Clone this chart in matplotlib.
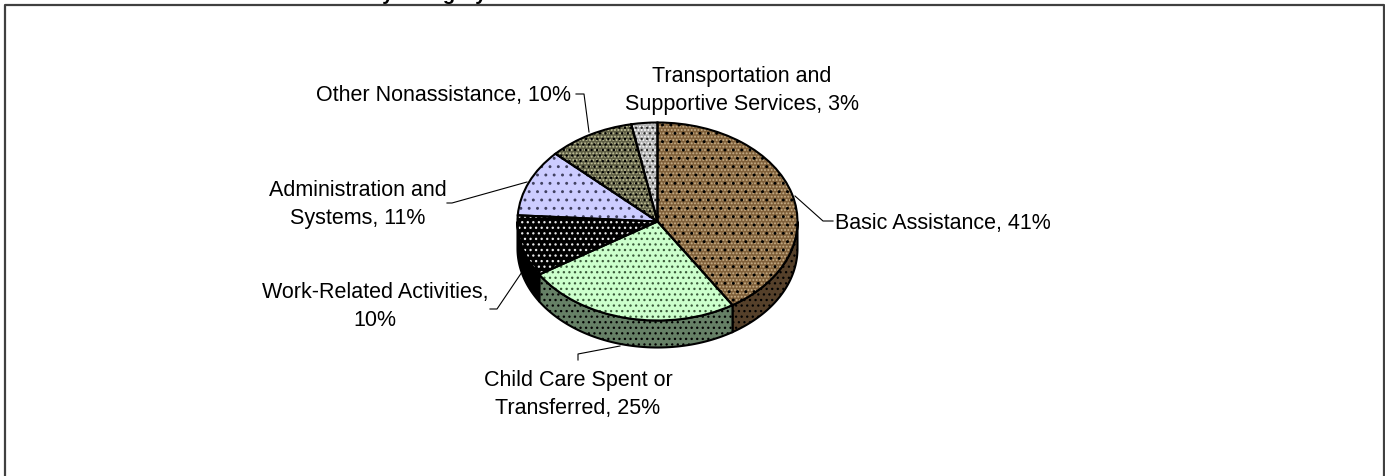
import matplotlib
matplotlib.use('Agg')
import matplotlib.pyplot as plt
import numpy as np
from matplotlib.patches import Polygon

# slices, clockwise from 12 o'clock
labels = ['Basic Assistance, 41%', 'Child Care Spent or\nTransferred, 25%',
          'Work-Related Activities,\n10%', 'Administration and\nSystems, 11%',
          'Other Nonassistance, 10%', 'Transportation and\nSupportive Services, 3%']
shares = [41, 25, 10, 11, 10, 3]

# looks of each slice: base colour, fine dots, coarse dots
face_colors = ['#80603A', '#CCFFCC', '#000000', '#CCCCFF', '#5E5E44', '#B0B0B0']
fine_colors = ['#C8B08A', '#CCFFCC', '#000000', '#CCCCFF', '#C8C8A0', '#FFFFFF']
fine_hatch = ['.....', '', '', '', '.....', '.....']
top_colors = ['#000000', '#3A5A3A', '#E8E8E8', '#404060', '#000000', '#303030']
top_hatch = ['..', '...', '...', '..', '...', '...']
side_colors = ['#55402A', '#668066', '#000000', '#666680', '#404030', '#606060']

label_xy = [(943, 224), (578, 394.5), (375, 306.5), (358, 204.5), (444, 95), (742, 90.5)]
leaders = [[(795, 197), (823, 222), (833, 222)],
           [(620, 347), (578, 355), (578, 361)],
           [(522, 273), (497, 310), (490, 310)],
           [(527, 183), (452, 204), (447, 204)],
           [(589, 133), (584, 95), (576, 95)]]

W, H = 1385, 477
plt.rcParams['font.family'] = ['Liberation Sans', 'DejaVu Sans']
plt.rcParams['hatch.linewidth'] = 0.9

fig = plt.figure(figsize=(W / 100, H / 100), dpi=100, facecolor='white')

# pixel overlay for frame, labels and leader lines
over = fig.add_axes([0, 0, 1, 1], zorder=2)
over.set_xlim(0, W)
over.set_ylim(H, 0)
over.axis('off')

over.plot([4.5, 4.5, 1383.5, 1383.5], [H + 5, 5.5, 5.5, H + 5], color='#404040', lw=1.6, clip_on=False)
over.text(486, 0, 'by Category', fontsize=14.5, fontweight='bold', ha='right', va='baseline')

for lab, (x, y) in zip(labels, label_xy):
    over.text(x, y, lab, fontsize=15.5, ha='center', va='center', linespacing=1.43, color='black')
for line in leaders:
    xs, ys = zip(*line)
    over.plot(xs, ys, color='black', lw=0.8)

# pie axes: unit circle squashed to 140 x 99 px
cx, cy, rx, ry = 657.5, 222.5, 140, 99
depth = 27 / ry
x0, x1, y0, y1 = -1.1, 1.1, -1.5, 1.1
ax = fig.add_axes([(cx + x0 * rx) / W, 1 - (cy - y0 * ry) / H, (x1 - x0) * rx / W, (y1 - y0) * ry / H], zorder=1)

# top face layers: base + fine pattern, coarse dots, then the outline
w1, _ = ax.pie(shares, startangle=90, counterclock=False, colors=face_colors, wedgeprops=dict(linewidth=0))
for w, ec, h in zip(w1, fine_colors, fine_hatch):
    w.set_edgecolor(ec)
    w.set_hatch(h)
    w.set_zorder(3)
w2, _ = ax.pie(shares, startangle=90, counterclock=False, wedgeprops=dict(facecolor='none', linewidth=0))
for w, ec, h in zip(w2, top_colors, top_hatch):
    w.set_facecolor('none')
    w.set_edgecolor(ec)
    w.set_hatch(h)
    w.set_zorder(4)
w3, _ = ax.pie(shares, startangle=90, counterclock=False, wedgeprops=dict(edgecolor='black', linewidth=1.5))
for w in w3:
    w.set_facecolor('none')
    w.set_zorder(5)

# side wall, only the part of each slice facing the viewer
for w, col in zip(w3, side_colors):
    a360, b360 = w.theta1 % 360, w.theta2 % 360
    if b360 <= a360:
        b360 += 360
    lo, hi = max(a360, 180), min(b360, 360)
    if hi <= lo:
        continue
    t = np.radians(np.linspace(lo, hi, 60))
    px = np.cos(t)
    py = np.sin(t)
    pts = np.column_stack([np.r_[px, px[::-1]], np.r_[py, py[::-1] - depth]])
    ax.add_patch(Polygon(pts, closed=True, facecolor=col, edgecolor='black', lw=1.5, zorder=1))
    ax.add_patch(Polygon(pts, closed=True, facecolor='none', edgecolor='#000000', hatch='...', lw=0, zorder=2))

ax.set_aspect('auto')
ax.set_xlim(x0, x1)
ax.set_ylim(y0, y1)
ax.axis('off')

fig.savefig('out.png', dpi=100)
